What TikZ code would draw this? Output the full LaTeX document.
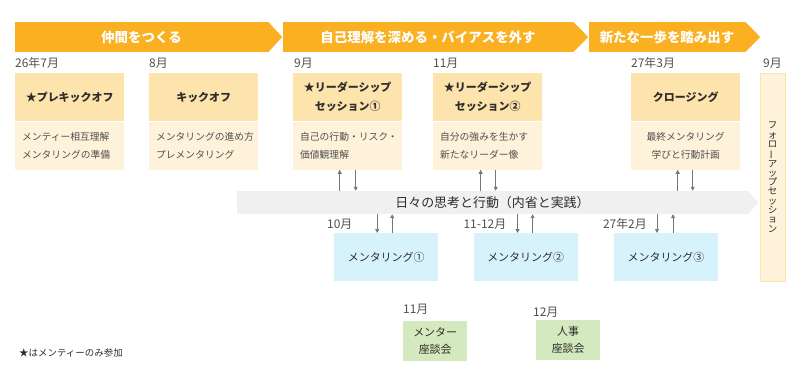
\documentclass[tikz,border=0pt]{standalone}
\usepackage{fontspec}
\setmainfont{Noto Sans CJK JP}
\usepackage{graphicx}
\usepackage{tikz}
\usetikzlibrary{positioning, arrows.meta}
\usetikzlibrary{calc}
\definecolor{bannerColor}{RGB}{250, 176, 32}
\definecolor{titleColor}{RGB}{253, 227, 172}
\definecolor{detailColor}{RGB}{254, 242, 218}
\definecolor{mentorColor}{RGB}{214, 243, 252}
\definecolor{talkColor}{RGB}{213, 233, 190}
\definecolor{bandColor}{RGB}{240, 240, 240}
\definecolor{textColor}{RGB}{45, 45, 45}
\definecolor{greyColor}{RGB}{80, 80, 80}
\definecolor{arrowColor}{RGB}{118, 118, 118}

\begin{document}
\begin{tikzpicture}[
        x=1bp, y=-1bp,
        phase/.style={
            fill=bannerColor,
            text=white,
            minimum height=30bp,
            inner sep=0pt,
            font=\fontsize{13.5}{14}\selectfont\bfseries
        },
        band/.style={
            fill=bandColor,
            text=textColor,
            minimum height=23bp,
            inner sep=0pt,
            font=\fontsize{13}{14}\selectfont
        },
        session/.style={
            fill=titleColor,
            minimum width=109bp,
            minimum height=48bp,
            inner sep=0pt,
            align=center,
            text=textColor,
            font=\fontsize{11}{19}\selectfont\bfseries
        },
        detail/.style={
            fill=detailColor,
            minimum width=109bp,
            minimum height=48bp,
            inner xsep=7bp,
            inner ysep=0pt,
            text width=95bp,
            align=left,
            text=greyColor,
            font=\fontsize{9.8}{18}\selectfont
        },
        mentor/.style={
            fill=mentorColor,
            minimum width=104bp,
            minimum height=48bp,
            text=textColor,
            font=\fontsize{11}{13}\selectfont
        },
        talk/.style={
            fill=talkColor,
            minimum width=64bp,
            minimum height=40bp,
            inner sep=0pt,
            align=center,
            text=textColor,
            font=\fontsize{11}{17}\selectfont
        },
        follow/.style={
            fill=detailColor,
            draw=titleColor,
            minimum width=25bp,
            minimum height=208bp,
            inner sep=0pt,
            align=center,
            text=textColor,
            font=\fontsize{9.5}{9.3}\selectfont
        },
        datelabel/.style={
            inner sep=0pt,
            text=greyColor,
            font=\fontsize{12}{13}\selectfont
        },
        flow/.style={
            -{Triangle[length=4pt, width=4pt]},
            draw=arrowColor,
            line width=0.9pt
        }
    ]

    \useasboundingbox (0,0) rectangle (800,375);

    % phases
    \node[phase, minimum width=253bp] (p1) at (141.5,37) {仲間をつくる};
    \fill[bannerColor] (p1.north east) -- ($(p1.east)+(14,0)$) -- (p1.south east) -- cycle;
    \node[phase, minimum width=290bp] (p2) at (428,37) {自己理解を深める・バイアスを外す};
    \fill[bannerColor] (p2.north east) -- ($(p2.east)+(15,0)$) -- (p2.south east) -- cycle;
    \node[phase, minimum width=156bp] (p3) at (667,37) {新たな一歩を踏み出す};
    \fill[bannerColor] (p3.north east) -- ($(p3.east)+(15,0)$) -- (p3.south east) -- cycle;

    % sessions
    \node[session, anchor=north west] (s1) at (15,73) {★プレキックオフ};
    \node[detail, below=0pt of s1] (s1b) {メンティー相互理解\\メンタリングの準備};
    \node[session, anchor=north west] (s2) at (149,73) {キックオフ};
    \node[detail, below=0pt of s2] (s2b) {メンタリングの進め方\\プレメンタリング};
    \node[session, anchor=north west] (s3) at (293,73) {★リーダーシップ\\セッション①};
    \node[detail, below=0pt of s3] (s3b) {自己の行動・リスク・\\価値観理解};
    \node[session, anchor=north west] (s4) at (433,73) {★リーダーシップ\\セッション②};
    \node[detail, below=0pt of s4] (s4b) {自分の強みを生かす\\新たなリーダー像};
    \node[session, anchor=north west] (s5) at (631,73) {クロージング};
    \node[detail, align=center, below=0pt of s5] (s5b) {最終メンタリング\\学びと行動計画};
    \node[follow, anchor=north west] (fu) at (760,73) {フ\\ォ\\ロ\\\rotatebox[origin=c]{90}{ー}\\ア\\ッ\\プ\\セ\\ッ\\シ\\ョ\\ン};

    \node[datelabel, above right=4pt and 0pt of s1.north west] (d1) {26年7月};
    \node[datelabel, above right=4pt and 0pt of s2.north west] (d2) {8月};
    \node[datelabel, above right=4pt and 0pt of s3.north west, xshift=1bp] (d3) {9月};
    \node[datelabel, above right=4pt and 0pt of s4.north west] (d4) {11月};
    \node[datelabel, above right=4pt and 0pt of s5.north west] (d5) {27年3月};
    \node[datelabel, above right=4pt and 0pt of fu.north west, xshift=3bp] (d6) {9月};

    % daily practice
    \node[band, minimum width=511bp] (daily) at (492.5,202.5) {日々の思考と行動（内省と実践）};
    \fill[bandColor] (daily.north east) -- ($(daily.east)+(10,0)$) -- (daily.south east) -- cycle;

    % mentoring
    \node[mentor, anchor=north west] (m1) at (334,233) {メンタリング①};
    \node[mentor, right=35bp of m1] (m2) {メンタリング②};
    \node[mentor, right=36bp of m2] (m3) {メンタリング③};

    \node[datelabel, above right=3pt and 0pt of m1.north west, xshift=-7bp] (d7) {10月};
    \node[datelabel, above right=3pt and 0pt of m2.north west, xshift=-10bp] (d8) {11-12月};
    \node[datelabel, above right=3pt and 0pt of m3.north west, xshift=-11bp] (d9) {27年2月};

    % talks
    \node[talk, anchor=north west] (g1) at (403,321) {メンター\\座談会};
    \node[talk, anchor=north west] (g2) at (536,320) {人事\\座談会};
    \node[datelabel, above right=6pt and 0pt of g1.north west] (d10) {11月};
    \node[datelabel, above right=2pt and 0pt of g2.north west, xshift=-3bp] (d11) {12月};

    \node[anchor=west, inner sep=0pt, text=textColor, font=\fontsize{9.5}{11}\selectfont] (note) at (19,353) {★はメンティーのみ参加};

    \draw[flow] ($(s3b.south |- daily.north)+(-8,0)$) -- ($(s3b.south)+(-8,0)$);
    \draw[flow] ($(s3b.south)+(8,0)$) -- ($(s3b.south |- daily.north)+(8,0)$);
    \draw[flow] ($(s4b.south |- daily.north)+(-7,0)$) -- ($(s4b.south)+(-7,0)$);
    \draw[flow] ($(s4b.south)+(8,0)$) -- ($(s4b.south |- daily.north)+(8,0)$);
    \draw[flow] ($(s5b.south |- daily.north)+(-8,0)$) -- ($(s5b.south)+(-8,0)$);
    \draw[flow] ($(s5b.south)+(7,0)$) -- ($(s5b.south |- daily.north)+(7,0)$);

    \draw[flow] ($(m1.north |- daily.south)+(-9,0)$) -- ($(m1.north)+(-9,0)$);
    \draw[flow] ($(m1.north)+(6,0)$) -- ($(m1.north |- daily.south)+(6,0)$);
    \draw[flow] ($(m2.north |- daily.south)+(-8,0)$) -- ($(m2.north)+(-8,0)$);
    \draw[flow] ($(m2.north)+(7,0)$) -- ($(m2.north |- daily.south)+(7,0)$);
    \draw[flow] ($(m3.north |- daily.south)+(-9,0)$) -- ($(m3.north)+(-9,0)$);
    \draw[flow] ($(m3.north)+(7,0)$) -- ($(m3.north |- daily.south)+(7,0)$);

    \end{tikzpicture}
\end{document}
